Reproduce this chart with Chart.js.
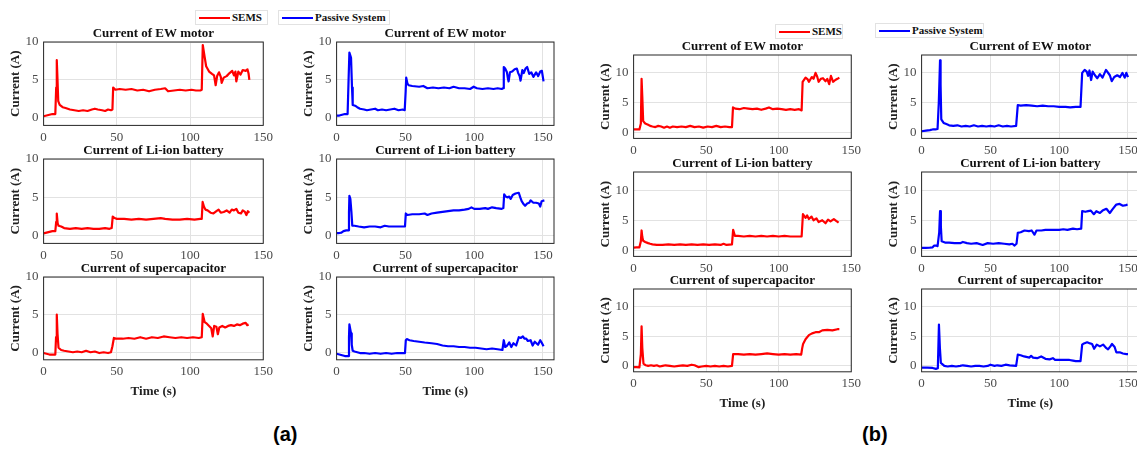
<!DOCTYPE html>
<html>
<head>
<meta charset="utf-8">
<script src="https://cdn.jsdelivr.net/npm/chart.js@4.4.1/dist/chart.umd.min.js"></script>
<style>
  html, body { margin: 0; padding: 0; background: #fff; }
  body { position: relative; width: 1137px; height: 452px; overflow: hidden; }
  canvas { position: absolute; }
  .leg { position: absolute; height: 13px; border: 1px solid #e2e2e2; background: #fff;
         font: bold 11px 'Liberation Serif'; line-height: 13px; color: #111; white-space: nowrap; }
  .leg i { position: absolute; left: 3px; top: 6px; width: 31px; height: 2px; }
  .leg span { position: absolute; left: 36px; top: 0; }
  .plabel { position: absolute; font: bold 20px 'Liberation Sans'; color: #000; }
</style>
</head>
<body>
<script>
// ---- data: [time (s), current (A)] ----
const aSemsMotor = [[0,0.2],[2,0.3],[4,0.4],[6,0.5],[8,0.5],[8.6,4],[9,7.6],[9.5,5],[10,2.2],[11,1.7],[13,1.4],[15,1.3],[18,1.1],[21,1.0],[24,0.9],[27,1.0],[30,0.9],[33,1.1],[35,1.2],[37,1.1],[40,1.0],[42,0.9],[44,1.1],[46,1.0],[47,1.1],[47.5,4.0],[49,3.7],[52,3.8],[56,3.7],[60,3.8],[64,3.6],[68,3.7],[72,3.5],[76,3.7],[80,3.8],[83,3.9],[85,3.5],[89,3.6],[93,3.7],[97,3.6],[101,3.7],[104,3.6],[107,3.6],[108,3.7],[108.7,9.6],[110,8.0],[111,6.8],[113,6.1],[115,5.8],[116.4,5.6],[117.5,4.3],[118.5,5.5],[119.8,6.0],[121,5.4],[121.6,4.6],[123,5.3],[125,5.5],[127,5.9],[128.8,6.2],[130,5.6],[131,6.1],[131.6,4.8],[133,6.1],[134.5,5.7],[136,6.3],[138,6.2],[139.2,6.4],[140,5.8],[140.5,5.0]];
const aSemsLiion = [[0,0.3],[2,0.4],[4,0.5],[6,0.6],[8,0.6],[8.6,1.8],[9,2.9],[9.6,1.6],[10.2,1.3],[12,1.2],[14,1.0],[18,0.9],[22,1.0],[26,0.9],[30,1.0],[34,0.9],[38,0.9],[42,1.0],[45,0.9],[46.5,1.0],[47.2,2.5],[48.5,2.3],[50,2.2],[55,2.2],[60,2.1],[65,2.2],[70,2.1],[75,2.2],[80,2.3],[83,2.2],[88,2.1],[93,2.1],[98,2.2],[103,2.1],[107,2.2],[108,2.2],[108.6,4.4],[109.5,3.8],[110.5,3.4],[112,3.3],[114,3.0],[116,2.9],[118,3.2],[119.5,3.4],[121,3.0],[123,3.1],[125,3.3],[127,3.0],[128.5,3.4],[130,3.3],[131.6,3.5],[133,3.0],[134.8,2.9],[136,3.3],[137.5,3.1],[138.5,2.7],[139.5,3.2],[140.5,3.0]];
const aSemsSuper = [[0,-0.1],[2,-0.2],[4,-0.3],[6,-0.3],[8,-0.3],[8.5,2.0],[9,5.0],[9.5,2.5],[10.2,0.6],[12,0.3],[14,0.2],[17,0.1],[20,0.0],[23,0.1],[26,0.0],[29,0.2],[32,0.0],[35,0.1],[38,-0.1],[41,0.0],[44,-0.1],[46,0.0],[47,0.8],[48,1.9],[50,1.8],[54,1.8],[58,1.9],[62,1.8],[66,2.0],[70,1.8],[74,2.0],[78,1.9],[82,2.1],[86,2.0],[90,1.9],[94,2.0],[98,1.9],[102,2.0],[106,1.9],[108,2.0],[108.7,5.1],[110,4.0],[111.5,3.8],[113,3.5],[114.5,3.2],[115.5,2.1],[116.5,3.5],[118,3.4],[119,2.4],[120,3.3],[122,3.5],[124,3.3],[126,3.5],[128,3.6],[130,3.5],[132,3.7],[134,3.6],[136,3.8],[138,3.9],[139,3.6],[140,3.7]];
const aPassMotor = [[0,0.3],[2,0.3],[4,0.4],[6,0.5],[8,0.5],[8.7,5],[9.3,8.6],[10,8.2],[10.5,7.9],[11.2,4],[11.7,1.7],[13.4,1.6],[15,1.4],[17,1.2],[20,1.1],[22,1.0],[25,1.1],[28,1.2],[30,1.0],[33,1.1],[36,1.0],[39,1.1],[42,1.2],[45,1.0],[48,1.1],[49.5,1.0],[50.2,3.5],[50.6,5.3],[51.5,4.5],[52.3,4.3],[55,4.2],[60,4.1],[63,4.2],[66,3.9],[70,4.0],[74,3.9],[78,4.0],[82,3.9],[85,4.1],[89,3.9],[93,3.9],[97,3.8],[99.6,4.1],[102,3.9],[106,3.8],[110,3.9],[114,3.8],[117,3.9],[120,3.8],[121,3.9],[121.5,6.7],[122.5,6.5],[123.8,6.0],[124.5,5.2],[125,4.8],[126,6.0],[127.5,6.1],[129.4,6.4],[131,6.5],[132,5.9],[133,5.5],[133.7,4.9],[135,6.3],[136,5.9],[137.3,6.5],[138.5,6.7],[140,5.8],[141.5,6.0],[143,5.4],[145,6.0],[146.5,5.5],[148,6.1],[149.2,6.2],[150.4,4.8]];
const aPassLiion = [[0,0.35],[2,0.35],[3.5,0.4],[5,0.6],[7,0.7],[8.5,0.7],[9,3],[9.3,5.2],[10,4.8],[10.8,3],[11.4,1.3],[13,1.3],[16,1.2],[20,1.1],[24,1.2],[28,1.2],[32,1.1],[35,1.3],[38,1.2],[42,1.2],[46,1.2],[49.7,1.2],[50.3,2.9],[51.5,2.7],[55,2.8],[60,2.8],[64,2.9],[66,2.7],[69,2.9],[73,3.0],[77,3.1],[81,3.2],[85,3.3],[89,3.3],[93,3.4],[96,3.5],[98,3.7],[100,3.5],[104,3.5],[108,3.6],[110,3.5],[113,3.7],[116,3.6],[120,3.5],[121.2,3.6],[121.8,5.4],[123,5.1],[124,5.0],[125.5,5.1],[126.5,4.8],[128,5.3],[130,5.5],[132.4,5.6],[133.5,5.0],[134.5,4.5],[136,4.1],[137,3.9],[138.5,4.2],[140,4.3],[141,4.6],[143,4.3],[145,4.3],[147,4.2],[148,3.8],[149,4.5],[151,4.6]];
const aPassSuper = [[0,-0.2],[2,-0.3],[4,-0.4],[6,-0.5],[8.5,-0.5],[9,2],[9.3,3.7],[10,3.0],[10.5,2.5],[11,1.0],[11.7,0.2],[13,0.1],[15,0.0],[17,-0.1],[20,-0.1],[24,-0.2],[28,-0.1],[32,-0.2],[36,-0.1],[40,-0.2],[44,-0.1],[49.7,-0.1],[50.3,1.6],[51,1.75],[53,1.6],[56,1.5],[60,1.4],[64,1.3],[69,1.2],[73,1.1],[77,0.9],[81,0.8],[85,0.8],[89,0.7],[93,0.7],[97,0.6],[101,0.6],[105,0.5],[109,0.4],[113,0.5],[117,0.4],[120.5,0.3],[121.5,1.6],[122.5,0.7],[124,0.9],[125.5,1.3],[127,0.7],[128.5,1.2],[130.5,0.9],[132.4,2.0],[134,1.9],[135.4,2.1],[136.5,1.8],[137.8,1.8],[139,1.5],[141,1.6],[142.5,0.9],[144,1.4],[146.4,1.0],[148,1.6],[149,1.3],[150.4,0.8]];

const bSemsMotor = [[0,0.5],[2,0.5],[4,0.5],[5,1.5],[5.5,9.0],[6,6],[6.6,1.9],[8,1.5],[10,1.3],[11.4,1.1],[13,1.0],[15,0.9],[17,1.1],[19,1.0],[21,0.8],[23,1.0],[25,0.8],[27,1.0],[30,0.9],[33,1.0],[36,0.9],[39,1.1],[42,0.9],[45,1.0],[48,0.8],[51,1.0],[54,0.9],[57,1.1],[60,0.9],[63,1.0],[66,0.9],[67.8,0.9],[68.5,4.2],[70,4.0],[73,3.9],[76,4.1],[79,4.0],[82,3.9],[85,4.0],[88,3.8],[91,4.0],[93.3,4.2],[96,3.9],[99,4.0],[102,3.9],[105,3.8],[108,3.9],[111,3.8],[114,3.9],[115.8,3.7],[116.5,8.5],[118.5,9.2],[120,8.9],[120.8,8.5],[122.8,9.3],[124,9.0],[125.4,10.0],[126.5,9.4],[127.5,8.5],[129,9.0],[130.5,9.1],[132.3,8.6],[133.5,9.0],[134.8,8.1],[136,9.5],[137.5,8.5],[139,8.8],[140.5,9.0],[141.8,9.2]];
const bSemsLiion = [[0,0.45],[2,0.5],[4,0.5],[5,1.5],[5.5,3.3],[6,2.2],[6.6,1.6],[8,1.4],[10,1.2],[11.4,1.1],[13,1.0],[16,0.9],[20,0.9],[24,1.0],[28,0.9],[32,1.0],[36,0.9],[40,1.0],[44,0.9],[48,1.0],[52,0.9],[56,1.0],[60,0.9],[62,1.1],[64,0.9],[67.8,1.0],[68.6,3.4],[69.8,2.4],[72,2.4],[76,2.3],[80,2.4],[84,2.3],[88,2.4],[92,2.3],[96,2.4],[100,2.3],[104,2.4],[108,2.3],[112,2.3],[115.8,2.3],[116.7,6.0],[118.5,5.4],[119.6,5.8],[120.8,5.2],[122.6,5.6],[124,5.0],[126,5.3],[127.5,4.7],[130,5.0],[132.3,4.5],[134,5.1],[135.7,4.8],[138,5.2],[139.6,4.9],[141.3,4.6]];
const bSemsSuper = [[0,-0.2],[2,-0.2],[4,-0.25],[5,2],[5.5,6.7],[6,3],[6.8,0.4],[8.4,0.1],[10,0.0],[12,0.1],[14,0.0],[16,0.1],[18,-0.1],[20,0.0],[22,0.1],[25,0.0],[28,-0.1],[31,0.0],[34,0.1],[37,0.0],[40,0.2],[42,0.1],[44.6,-0.2],[47,-0.1],[50,0.0],[53,-0.1],[56,0.0],[59,-0.1],[62,0.0],[65,-0.1],[67.8,0.0],[68.6,2.0],[72,2.0],[76,1.9],[80,2.0],[84,1.9],[88,2.0],[92,2.1],[96,2.0],[100,1.9],[104,2.0],[108,1.9],[112,2.0],[115.5,1.9],[116.2,3.0],[116.8,3.7],[118.5,4.5],[120.8,5.2],[123,5.5],[125.4,5.7],[127.7,5.7],[130,6.0],[133.5,6.1],[137,6.0],[140.5,6.2],[141.8,6.2]];
const bPassMotor = [[0,0.2],[3.2,0.3],[6,0.4],[8,0.5],[10,0.5],[11.6,0.6],[12.5,5],[13.4,12.1],[13.8,8],[14.3,2.2],[16,1.6],[18,1.4],[20,1.2],[23,1.1],[26,1.2],[29,1.0],[32,1.1],[35,1.0],[38,1.2],[41,1.0],[44,1.1],[47,1.0],[50,1.1],[53,1.0],[56,1.2],[59,1.0],[62,1.1],[65,1.0],[68.7,1.1],[69.9,4.6],[72,4.5],[76,4.6],[80,4.5],[84,4.4],[88,4.5],[92,4.4],[96,4.4],[100,4.3],[104.6,4.3],[108,4.2],[112,4.3],[115.5,4.3],[116.7,10.0],[118.5,10.5],[120,10.2],[121,9.5],[122,10.4],[123.2,8.8],[124.3,10.2],[126,9.6],[127.7,9.1],[129.6,9.8],[131.5,9.2],[134,10.5],[136.8,9.6],[138.2,8.6],[140,9.3],[142.2,9.6],[144.2,9.3],[146,10.0],[147.6,9.2],[148.8,10.0],[150,9.3]];
const bPassLiion = [[0,0.4],[3,0.4],[6,0.45],[8,0.5],[9.2,0.8],[10.5,0.8],[11.6,0.7],[12.8,3],[13.4,6.5],[14,4],[14.6,1.5],[17,1.3],[20,1.3],[24,1.2],[28,1.2],[30,1.4],[33,1.2],[36,1.1],[40,1.2],[44.4,0.9],[48,1.2],[52,1.1],[56,1.2],[60,1.1],[63.8,1.0],[66,1.1],[67.4,0.8],[69,1.1],[69.9,2.9],[72,3.0],[74.8,3.3],[78,3.2],[80,3.3],[82,2.6],[83.5,3.3],[87,3.3],[90,3.4],[95,3.4],[100,3.4],[103,3.5],[106,3.4],[110,3.6],[113,3.5],[116,3.6],[116.7,6.5],[119,6.4],[121,6.5],[123,6.6],[125.2,6.0],[127,6.5],[129.6,6.2],[131.5,6.6],[134.3,6.9],[136.8,6.2],[138.7,6.8],[141.5,7.6],[143.9,7.7],[146.3,7.4],[148.5,7.5],[149.7,7.6]];
const bPassSuper = [[0,-0.3],[4,-0.3],[8,-0.35],[10.4,-0.5],[11.8,-0.4],[12.6,7.0],[13.3,3],[14,0.5],[16.5,0.0],[19,-0.1],[22,0.0],[25,-0.1],[28,0.0],[30,0.1],[33,0.0],[36,-0.1],[39,0.0],[42,0.0],[45,-0.1],[48,0.0],[50,0.2],[53,0.0],[55,0.1],[58,0.0],[61,0.2],[64,0.1],[68.7,0.0],[69.9,1.9],[72,1.8],[74.5,1.6],[78.4,1.4],[79.6,1.7],[81,1.4],[84,1.3],[86.9,1.6],[90,1.2],[93,1.1],[95.4,1.3],[97,1.0],[100,1.0],[104,1.0],[107.5,1.0],[110,0.9],[112,0.8],[115.5,0.8],[116.7,3.6],[118,3.8],[120.3,4.0],[122.5,3.8],[123.9,3.7],[125.4,2.9],[127.3,3.6],[129.6,3.3],[131.9,3.6],[134.3,3.0],[135.5,2.8],[137.2,3.3],[138.4,3.7],[140.3,3.2],[141.5,2.3],[144,2.3],[146.3,2.1],[148.8,2.0],[150,2.0]];

const TITLES = ['Current of EW motor', 'Current of Li-ion battery', 'Current of supercapacitor'];
const SERIES_NAMES = ['SEMS', 'Passive System'];
const X_LABEL = 'Time (s)';
const Y_LABEL = 'Current (A)';
const X_TICKS = [0, 50, 100, 150];
const Y_TICKS = [0, 5, 10];

const RED = '#ff0000';
const BLUE = '#0000ff';
const SERIF = "'Liberation Serif', serif";
const TICK_COLOR = '#4a4a4a';
const GRID_COLOR = '#e2e2e2';

// plot-area boxes [left, top, right, bottom] for each subplot
const rowsA = [[42, 125], [159, 243], [277, 360]];
const rowsB = [[55, 138], [172, 256], [289, 372]];
const subplots = [];
[[aSemsMotor, aSemsLiion, aSemsSuper], [aPassMotor, aPassLiion, aPassSuper]].forEach((col, c) => {
  col.forEach((pts, r) => subplots.push({
    box: c === 0 ? [44, rowsA[r][0], 264, rowsA[r][1]] : [337, rowsA[r][0], 554, rowsA[r][1]],
    pts, color: c === 0 ? RED : BLUE, title: TITLES[r], row: r,
    xMax: c === 0 ? 150 : 158, yMax: 10
  }));
});
[[bSemsMotor, bSemsLiion, bSemsSuper], [bPassMotor, bPassLiion, bPassSuper]].forEach((col, c) => {
  col.forEach((pts, r) => subplots.push({
    box: c === 0 ? [634, rowsB[r][0], 852, rowsB[r][1]] : [922, rowsB[r][0], 1139, rowsB[r][1]],
    pts, color: c === 0 ? RED : BLUE, title: TITLES[r], row: r,
    xMax: c === 0 ? 150 : 158, yMax: 13
  }));
});

// title centred over the plot area + dark box round it, like MATLAB axes
function axesDecor(title) {
  return {
    id: 'axesDecor',
    afterDraw(chart) {
      const { ctx, chartArea: a } = chart;
      ctx.save();
      ctx.strokeStyle = '#262626';
      ctx.lineWidth = 1;
      ctx.strokeRect(a.left, a.top, a.right - a.left, a.bottom - a.top);
      ctx.fillStyle = '#111';
      ctx.font = `bold 13px ${SERIF}`;
      ctx.textAlign = 'center';
      ctx.textBaseline = 'alphabetic';
      ctx.fillText(title, (a.left + a.right) / 2, a.top - 5);
      ctx.restore();
    }
  };
}

function drawSubplot(sp) {
  const [x0, y0, x1, y1] = sp.box;
  const canvas = document.createElement('canvas');
  canvas.width = x1 - x0 + 80;
  canvas.height = y1 - y0 + 60;
  document.body.appendChild(canvas);

  const tickFont = { family: SERIF, size: 13 };
  const boldFont = { family: SERIF, size: 13, weight: 'bold' };

  const chart = new Chart(canvas, {
    type: 'line',
    data: {
      datasets: [{
        label: sp.color === RED ? SERIES_NAMES[0] : SERIES_NAMES[1],
        data: sp.pts.map(([x, y]) => ({ x, y })),
        borderColor: sp.color,
        borderWidth: 2.2,
        borderJoinStyle: 'round',
        pointRadius: 0,
        tension: 0
      }]
    },
    options: {
      responsive: false,
      maintainAspectRatio: false,
      animation: false,
      events: [],
      layout: { padding: { top: 20, right: 4 } },
      plugins: { legend: { display: false }, tooltip: { enabled: false } },
      scales: {
        x: {
          type: 'linear', min: 0, max: sp.xMax,
          afterBuildTicks: s => { s.ticks = X_TICKS.map(value => ({ value })); },
          ticks: { padding: 4, color: TICK_COLOR, font: tickFont, maxRotation: 0, autoSkip: false },
          grid: { color: GRID_COLOR, drawTicks: false },
          border: { display: false },
          title: { display: sp.row === 2, text: X_LABEL, color: '#222', font: boldFont, padding: { top: 0, bottom: 0 } }
        },
        y: {
          min: -1, max: sp.yMax,
          afterBuildTicks: s => { s.ticks = Y_TICKS.map(value => ({ value })); },
          ticks: { padding: 5, color: TICK_COLOR, font: tickFont, autoSkip: false },
          grid: { color: GRID_COLOR, drawTicks: false },
          border: { display: false },
          title: { display: true, text: Y_LABEL, color: '#222', font: boldFont, padding: { top: 2, bottom: -3 } }
        }
      }
    },
    plugins: [axesDecor(sp.title)]
  });

  // resize so that the plot area gets the wanted size, then move it in place
  let a = chart.chartArea;
  const w = Math.round(chart.width + (x1 - x0) - (a.right - a.left));
  const h = Math.round(chart.height + (y1 - y0) - (a.bottom - a.top));
  chart.resize(w, h);
  a = chart.chartArea;
  canvas.style.left = (x0 - a.left) + 'px';
  canvas.style.top = (y0 - a.top) + 'px';
}

subplots.forEach(drawSubplot);

// legends (one per column) and panel labels
const legends = [
  { name: SERIES_NAMES[0], color: RED, left: 195, top: 10, width: 71 },
  { name: SERIES_NAMES[1], color: BLUE, left: 278, top: 10, width: 110 },
  { name: SERIES_NAMES[0], color: RED, left: 775, top: 24, width: 66 },
  { name: SERIES_NAMES[1], color: BLUE, left: 875, top: 23, width: 107 }
];
legends.forEach(l => {
  const div = document.createElement('div');
  div.className = 'leg';
  div.style.left = l.left + 'px';
  div.style.top = l.top + 'px';
  div.style.width = l.width + 'px';
  div.innerHTML = `<i style="background:${l.color}"></i><span>${l.name}</span>`;
  document.body.appendChild(div);
});

[['(a)', 273, 423], ['(b)', 862, 423]].forEach(([text, left, top]) => {
  const div = document.createElement('div');
  div.className = 'plabel';
  div.style.left = left + 'px';
  div.style.top = top + 'px';
  div.textContent = text;
  document.body.appendChild(div);
});
</script>
</body>
</html>
